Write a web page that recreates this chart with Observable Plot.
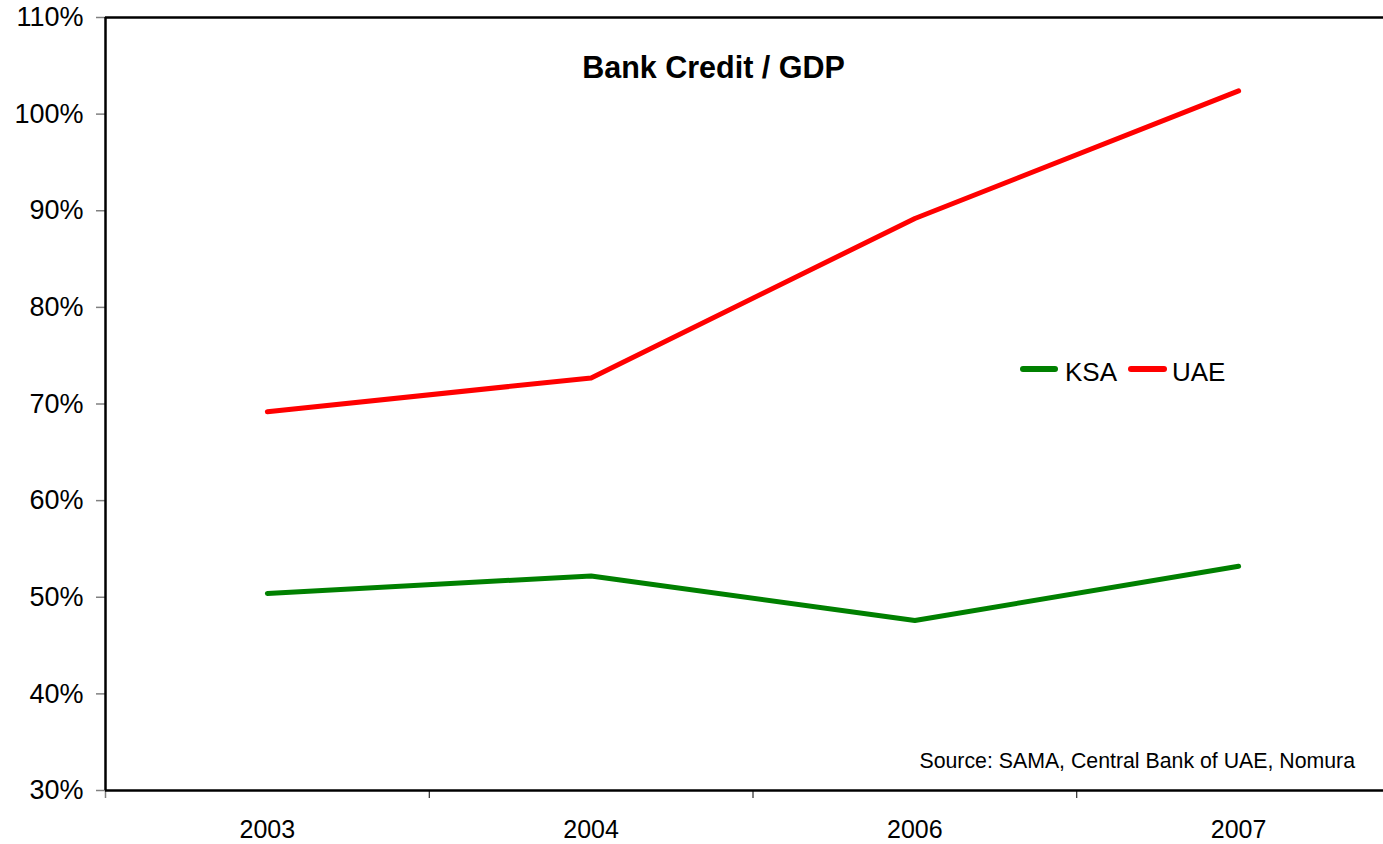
<!DOCTYPE html>
<html>
<head>
<meta charset="utf-8">
<script src="https://cdn.jsdelivr.net/npm/d3@7"></script>
<script src="https://cdn.jsdelivr.net/npm/@observablehq/plot@0.6"></script>
<style>
  html, body { margin: 0; padding: 0; background: #fff; }
  body { font-family: "Liberation Sans", Arial, sans-serif; }
  #wrap { position: relative; width: 1383px; height: 844px; overflow: hidden; }
  .ov { position: absolute; white-space: nowrap; color: #000; line-height: 1; }
  #title { left: 713.5px; top: 52px; font-size: 30.5px; font-weight: bold; transform: translateX(-50%); }
  #source { right: 28px; top: 751px; font-size: 21.3px; }
  .lt { font-size: 26px; top: 359px; }
  .sw { position: absolute; height: 6px; top: 366px; border-radius: 3px; }
</style>
</head>
<body>
<div id="wrap"></div>
<script>
const categories = ["2003", "2004", "2006", "2007"];
const seriesNames = ["KSA", "UAE"];
const ksaValues = [50.4, 52.2, 47.6, 53.2];
const uaeValues = [69.2, 72.7, 89.2, 102.4];
const seriesColors = ["#008000", "#ff0000"];
const yTicks = [30, 40, 50, 60, 70, 80, 90, 100, 110];
const titleText = "Bank Credit / GDP";
const sourceText = "Source: SAMA, Central Bank of UAE, Nomura";

const data = [];
[ksaValues, uaeValues].forEach((vals, s) => {
  vals.forEach((v, i) => data.push({series: seriesNames[s], idx: i + 0.5, cat: categories[i], value: v}));
});

const chart = Plot.plot({
  width: 1383,
  height: 844,
  marginLeft: 105,
  marginRight: 0,
  marginTop: 17,
  marginBottom: 54,
  style: {fontFamily: "'Liberation Sans', Arial, sans-serif", fontSize: "26px", color: "#000", background: "#fff"},
  x: {domain: [0, categories.length], range: [105, 1400]},
  y: {domain: [30, 110]},
  color: {domain: seriesNames, range: seriesColors},
  marks: [
    Plot.axisY({ticks: yTicks, tickFormat: d => d + "%", tickSize: 9, tickPadding: 13, stroke: "#808080", strokeWidth: 1.5, fontSize: 27, label: null}),
    Plot.axisX({ticks: categories.map((c, i) => i + 0.5), tickFormat: (d, i) => categories[i], tickSize: 0, tickPadding: 30, fontSize: 25, label: null}),
    Plot.axisX({ticks: d3.range(1, categories.length), tickFormat: () => "", tickSize: 8, stroke: "#000", label: null}),
    Plot.axisX({ticks: [0], tickFormat: () => "", tickSize: 8, stroke: "#808080", strokeWidth: 1.5, label: null}),
    Plot.ruleY([30], {stroke: "#000", strokeWidth: 2.5}),
    Plot.ruleY([110], {stroke: "#000", strokeWidth: 2.5}),
    Plot.ruleX([0], {stroke: "#000", strokeWidth: 2.5}),
    Plot.line(data, {x: "idx", y: "value", z: "series", stroke: "series", strokeWidth: 5, strokeLinecap: "round", strokeLinejoin: "round"})
  ]
});

const wrap = document.getElementById("wrap");
wrap.appendChild(chart);

const t = document.createElement("div");
t.id = "title"; t.className = "ov"; t.textContent = titleText;
wrap.appendChild(t);

const s = document.createElement("div");
s.id = "source"; s.className = "ov"; s.textContent = sourceText;
wrap.appendChild(s);

// legend
const swatchLeft = [1020, 1128];
const swatchWidth = [38, 39];
const textLeft = [1065, 1172];
seriesNames.forEach((n, i) => {
  const sw = document.createElement("div");
  sw.className = "sw";
  sw.style.left = swatchLeft[i] + "px";
  sw.style.width = swatchWidth[i] + "px";
  sw.style.background = seriesColors[i];
  wrap.appendChild(sw);
  const tx = document.createElement("div");
  tx.className = "ov lt";
  tx.style.left = textLeft[i] + "px";
  tx.textContent = n;
  wrap.appendChild(tx);
});
</script>
</body>
</html>
